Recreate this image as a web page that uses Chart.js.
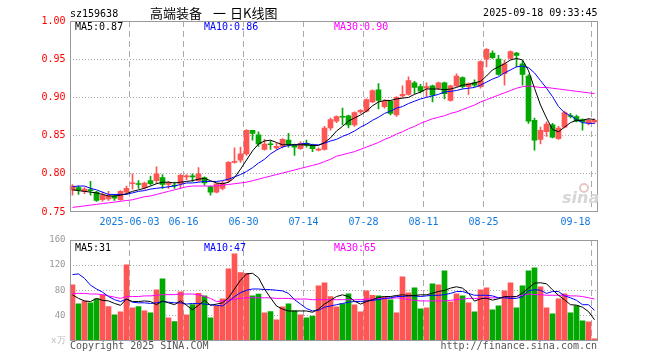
<!DOCTYPE html>
<html>
<head>
<meta charset="utf-8">
<script src="https://cdn.jsdelivr.net/npm/chart.js@4.4.1/dist/chart.umd.min.js"></script>
<style>
html, body { margin: 0; padding: 0; background: #fff; }
#wrap { position: relative; width: 660px; height: 360px; overflow: hidden; background: #fff; }
#kCanvas { position: absolute; left: 0; top: 0; }
#volCanvas { position: absolute; left: 0; top: 228px; }
</style>
</head>
<body>
<div id="wrap">
  <canvas id="kCanvas" width="660" height="232"></canvas>
  <canvas id="volCanvas" width="660" height="132"></canvas>
</div>
<script>
var MONO = '"DejaVu Sans Mono", "Liberation Mono", monospace';
Chart.defaults.font.family = MONO;
Chart.defaults.font.size = 10;

var RED = '#ff5555';
var GREEN = '#00a800';
var GRID = '#aaaaaa';
var DATE_BLUE = '#1177dd';

// trading days shown on the chart
var dates = [
    '2025-05-19', '2025-05-20', '2025-05-21', '2025-05-22', '2025-05-23',
    '2025-05-26', '2025-05-27', '2025-05-28', '2025-05-29', '2025-05-30',
    '2025-06-03', '2025-06-04', '2025-06-05', '2025-06-06',
    '2025-06-09', '2025-06-10', '2025-06-11', '2025-06-12', '2025-06-13',
    '2025-06-16', '2025-06-17', '2025-06-18', '2025-06-19', '2025-06-20',
    '2025-06-23', '2025-06-24', '2025-06-25', '2025-06-26', '2025-06-27',
    '2025-06-30', '2025-07-01', '2025-07-02', '2025-07-03', '2025-07-04',
    '2025-07-07', '2025-07-08', '2025-07-09', '2025-07-10', '2025-07-11',
    '2025-07-14', '2025-07-15', '2025-07-16', '2025-07-17', '2025-07-18',
    '2025-07-21', '2025-07-22', '2025-07-23', '2025-07-24', '2025-07-25',
    '2025-07-28', '2025-07-29', '2025-07-30', '2025-07-31', '2025-08-01',
    '2025-08-04', '2025-08-05', '2025-08-06', '2025-08-07', '2025-08-08',
    '2025-08-11', '2025-08-12', '2025-08-13', '2025-08-14', '2025-08-15',
    '2025-08-18', '2025-08-19', '2025-08-20', '2025-08-21', '2025-08-22',
    '2025-08-25', '2025-08-26', '2025-08-27', '2025-08-28', '2025-08-29',
    '2025-09-01', '2025-09-02', '2025-09-03', '2025-09-04', '2025-09-05',
    '2025-09-08', '2025-09-09', '2025-09-10', '2025-09-11', '2025-09-12',
    '2025-09-15', '2025-09-16', '2025-09-17', '2025-09-18'
];

// dates that get a label and a dashed grid line
var tickDates = ['2025-06-03', '2025-06-16', '2025-06-30', '2025-07-14', '2025-07-28', '2025-08-11', '2025-08-25', '2025-09-18'];

var openPrice = [
    0.779, 0.782, 0.777, 0.779, 0.776, 0.766, 0.767, 0.771, 0.766, 0.776,
    0.787, 0.787, 0.782, 0.791, 0.791, 0.795, 0.786, 0.785, 0.787, 0.796,
    0.797, 0.791, 0.795, 0.783, 0.776, 0.781, 0.791, 0.815, 0.818, 0.826,
    0.857, 0.851, 0.832, 0.839, 0.834, 0.836, 0.844, 0.838, 0.833, 0.840,
    0.838, 0.831, 0.832, 0.860, 0.869, 0.875, 0.876, 0.864, 0.881, 0.882,
    0.894, 0.910, 0.888, 0.895, 0.877, 0.902, 0.904, 0.919, 0.914, 0.912,
    0.915, 0.912, 0.919, 0.896, 0.915, 0.926, 0.914, 0.919, 0.914, 0.950,
    0.958, 0.950, 0.931, 0.951, 0.958, 0.944, 0.928, 0.870, 0.845, 0.855,
    0.864, 0.846, 0.861, 0.876, 0.875, 0.871, 0.867, 0.868
];
var closePrice = [
    0.784, 0.779, 0.780, 0.778, 0.765, 0.772, 0.771, 0.768, 0.777, 0.781,
    0.788, 0.786, 0.788, 0.787, 0.800, 0.786, 0.788, 0.784, 0.798, 0.797,
    0.796, 0.800, 0.788, 0.776, 0.787, 0.788, 0.815, 0.816, 0.826, 0.857,
    0.853, 0.839, 0.839, 0.838, 0.836, 0.845, 0.838, 0.835, 0.840, 0.837,
    0.833, 0.832, 0.860, 0.871, 0.875, 0.874, 0.864, 0.880, 0.883, 0.897,
    0.909, 0.896, 0.895, 0.879, 0.900, 0.904, 0.922, 0.913, 0.908, 0.914,
    0.903, 0.919, 0.905, 0.915, 0.928, 0.914, 0.918, 0.916, 0.947, 0.963,
    0.952, 0.930, 0.944, 0.960, 0.955, 0.930, 0.869, 0.844, 0.857, 0.865,
    0.848, 0.860, 0.880, 0.875, 0.869, 0.868, 0.870, 0.870
];
var highPrice = [
    0.786, 0.784, 0.782, 0.790, 0.777, 0.776, 0.777, 0.773, 0.778, 0.784,
    0.800, 0.791, 0.789, 0.797, 0.809, 0.799, 0.790, 0.789, 0.800, 0.799,
    0.800, 0.808, 0.796, 0.784, 0.788, 0.790, 0.816, 0.834, 0.835, 0.858,
    0.857, 0.855, 0.845, 0.843, 0.840, 0.846, 0.853, 0.839, 0.842, 0.844,
    0.839, 0.834, 0.862, 0.873, 0.876, 0.886, 0.877, 0.881, 0.884, 0.898,
    0.910, 0.918, 0.897, 0.896, 0.901, 0.915, 0.927, 0.921, 0.917, 0.919,
    0.916, 0.920, 0.920, 0.916, 0.931, 0.927, 0.919, 0.923, 0.948, 0.964,
    0.961, 0.955, 0.949, 0.961, 0.959, 0.948, 0.930, 0.873, 0.861, 0.868,
    0.866, 0.862, 0.882, 0.879, 0.877, 0.872, 0.872, 0.872
];
var lowPrice = [
    0.772, 0.773, 0.774, 0.772, 0.764, 0.764, 0.765, 0.765, 0.765, 0.774,
    0.780, 0.781, 0.780, 0.785, 0.787, 0.781, 0.781, 0.781, 0.781, 0.792,
    0.790, 0.790, 0.785, 0.772, 0.775, 0.779, 0.789, 0.814, 0.815, 0.824,
    0.844, 0.836, 0.831, 0.832, 0.832, 0.834, 0.835, 0.824, 0.832, 0.835,
    0.829, 0.830, 0.831, 0.857, 0.867, 0.864, 0.860, 0.862, 0.879, 0.881,
    0.893, 0.885, 0.886, 0.877, 0.875, 0.900, 0.903, 0.905, 0.906, 0.901,
    0.894, 0.910, 0.898, 0.895, 0.914, 0.912, 0.904, 0.914, 0.912, 0.940,
    0.951, 0.929, 0.916, 0.950, 0.940, 0.916, 0.866, 0.831, 0.839, 0.849,
    0.847, 0.845, 0.860, 0.873, 0.868, 0.857, 0.864, 0.866
];

// moving averages of the price, as drawn
var ma5 = [
    0.779, 0.778, 0.777, 0.776, 0.775, 0.773, 0.771, 0.771, 0.772, 0.774,
    0.777, 0.779, 0.781, 0.784, 0.787, 0.789, 0.789, 0.788, 0.789, 0.790,
    0.791, 0.793, 0.794, 0.791, 0.788, 0.787, 0.789, 0.795, 0.806, 0.818,
    0.830, 0.839, 0.843, 0.844, 0.841, 0.838, 0.838, 0.838, 0.838, 0.838,
    0.837, 0.837, 0.841, 0.847, 0.856, 0.862, 0.869, 0.873, 0.877, 0.882,
    0.889, 0.894, 0.896, 0.896, 0.898, 0.899, 0.900, 0.904, 0.907, 0.911,
    0.911, 0.911, 0.910, 0.911, 0.913, 0.916, 0.917, 0.919, 0.921, 0.928,
    0.936, 0.940, 0.944, 0.949, 0.951, 0.949, 0.935, 0.912, 0.890, 0.873,
    0.858, 0.855, 0.861, 0.867, 0.870, 0.870, 0.872, 0.871
];
var ma10 = [
    0.783, 0.784, 0.784, 0.781, 0.779, 0.776, 0.773, 0.773, 0.773, 0.773,
    0.775, 0.777, 0.778, 0.780, 0.781, 0.782, 0.783, 0.784, 0.786, 0.788,
    0.788, 0.789, 0.790, 0.790, 0.790, 0.791, 0.793, 0.796, 0.799, 0.803,
    0.808, 0.814, 0.819, 0.826, 0.831, 0.835, 0.837, 0.838, 0.839, 0.840,
    0.838, 0.838, 0.840, 0.843, 0.845, 0.849, 0.852, 0.856, 0.861, 0.865,
    0.870, 0.874, 0.879, 0.882, 0.886, 0.888, 0.892, 0.895, 0.898, 0.900,
    0.902, 0.904, 0.907, 0.908, 0.909, 0.911, 0.912, 0.913, 0.916, 0.920,
    0.924, 0.927, 0.932, 0.936, 0.940, 0.941, 0.939, 0.932, 0.922, 0.912,
    0.901, 0.888, 0.880, 0.876, 0.871, 0.867, 0.866, 0.866
];
var ma30 = [
    0.756, 0.757, 0.758, 0.759, 0.760, 0.761, 0.762, 0.763, 0.764, 0.765,
    0.766, 0.768, 0.770, 0.771, 0.773, 0.775, 0.777, 0.779, 0.781, 0.783,
    0.784, 0.784, 0.784, 0.784, 0.784, 0.785, 0.786, 0.787, 0.788, 0.789,
    0.791, 0.793, 0.795, 0.797, 0.799, 0.801, 0.803, 0.805, 0.807, 0.809,
    0.811, 0.813, 0.816, 0.819, 0.823, 0.825, 0.827, 0.829, 0.832, 0.835,
    0.838, 0.841, 0.845, 0.848, 0.852, 0.855, 0.859, 0.862, 0.866, 0.869,
    0.872, 0.874, 0.876, 0.879, 0.881, 0.884, 0.887, 0.890, 0.894, 0.897,
    0.900, 0.903, 0.906, 0.909, 0.912, 0.914, 0.915, 0.914, 0.913, 0.913,
    0.912, 0.911, 0.910, 0.909, 0.908, 0.907, 0.906, 0.905
];

// volume in units of 10k (x万)
var volume = [
    88.7, 58.4, 62.7, 60, 66.4, 72.7, 54, 41, 45.7, 120.5,
    52, 54, 47.3, 44, 80.7, 98.2, 36, 30.3, 77.5, 41,
    57, 75, 71, 36, 55, 66.4, 114, 138, 108, 107,
    71, 74, 44, 46, 33, 53.6, 58.4, 47.3, 41, 36,
    39, 87, 92, 70, 53.6, 58.4, 74.3, 56.8, 45.7, 79,
    72, 71, 69.6, 64.8, 44, 101.4, 76, 84, 50.4, 52,
    90.3, 88.7, 111, 61.6, 74.3, 71, 60, 45.7, 80.7, 84,
    48.9, 55.2, 79, 91.9, 52, 87, 111, 115.8, 85.5, 52,
    42.5, 66.4, 74.3, 44, 55.2, 31.3, 29.7, 2.7
];
var volMa5 = [
    72.7, 67, 63, 62, 67, 64, 63, 59, 56, 66,
    62, 62, 63, 62, 57, 63, 60, 57, 63, 56,
    49, 56, 64, 56, 58, 60, 68, 82, 96, 106,
    107, 100, 82, 68, 55, 50, 47, 47, 47, 47,
    45, 50, 58, 64, 70, 72.7, 70, 62.6, 58, 62,
    65, 68.5, 70, 70, 71.7, 72.7, 71.7, 71.7, 72.7, 72.7,
    75.4, 78, 79.7, 83.4, 85.5, 83.4, 75.4, 62.6, 66.4, 67.4,
    64.3, 66.4, 70, 69.6, 70, 75.4, 83.4, 91.3, 91.9, 90.3,
    80.7, 72, 64.8, 57, 56.3, 53, 46, 33
];
var volMa10 = [
    105, 106, 99, 88, 82, 77, 70, 65, 62, 66,
    61, 60, 60, 59, 60, 62, 61, 60, 60, 58,
    59, 59, 58, 57, 56, 55, 62, 70, 76, 80,
    82, 82, 81, 81, 80, 79, 75, 65, 58, 51,
    47, 48, 53, 55, 57, 59, 61, 62, 62, 63,
    64, 65, 67, 68, 70, 70, 71, 71, 70, 71,
    72, 72, 73, 75, 78, 78, 75, 72, 72, 72,
    71, 68, 68, 67, 67, 70, 79, 81, 80, 75,
    78, 78, 71, 68, 64, 57, 57, 48
];
var volMa30 = [
    75, 75, 75, 74, 74, 73, 71, 69, 67, 70,
    70, 70, 71, 71, 72, 73, 73, 73, 74, 74,
    74, 73, 70, 67, 62, 63, 64, 66, 67, 68,
    68, 68, 68, 68, 67, 67, 67, 66, 66, 66,
    65, 65, 65, 65, 65, 65, 65, 65, 65, 66,
    66, 67, 67, 67, 68, 67, 65, 64, 63, 63,
    63, 63, 63, 64, 65, 66, 67, 67, 67, 68,
    68, 68, 69, 69, 70, 72, 74, 73, 73, 72,
    72, 72, 72, 71, 71, 70, 68, 66
];

var candleColors = openPrice.map(function (o, i) { return closePrice[i] >= o ? RED : GREEN; });
var tickIndex = tickDates.map(function (d) { return dates.indexOf(d); });

function dateGridColor(ctx) {
    return tickIndex.indexOf(ctx.index) >= 0 ? GRID : 'rgba(0,0,0,0)';
}

function drawFrame(chart) {
    var a = chart.chartArea, c = chart.ctx;
    var l = Math.round(a.left) + 0.5, r = Math.floor(a.right) + 0.5;
    var t = Math.round(a.top) + 0.5, b = Math.round(a.bottom) - 0.5;
    c.save();
    c.strokeStyle = '#999999';
    c.lineWidth = 1;
    c.strokeRect(l, t, r - l, b - t);
    c.restore();
}

function maLine(label, values, color) {
    return {
        type: 'line', label: label, data: values,
        borderColor: color, borderWidth: 1,
        pointRadius: 0, tension: 0, fill: false
    };
}

var kTextPlugin = {
    id: 'kText',
    afterDraw: function (chart) {
        var c = chart.ctx, a = chart.chartArea, xs = chart.scales.x;
        drawFrame(chart);
        c.save();
        c.textBaseline = 'alphabetic';
        c.font = '10px ' + MONO;
        c.fillStyle = '#000';
        c.textAlign = 'left';
        c.fillText('sz159638', 70, 16.5);
        c.textAlign = 'right';
        c.fillText('2025-09-18 09:33:45', 597.5, 16);

        // title, spaced like the original
        c.textAlign = 'left';
        c.font = '13px "Noto Sans CJK SC", sans-serif';
        c.fillText('高端装备', 150, 17.5);
        c.fillText('一', 213, 17.5);
        c.fillText('日K线图', 230, 17.5);

        c.font = '10px ' + MONO;
        c.fillStyle = '#000';
        c.fillText('MA5:0.87', 75, 29.5);
        c.fillStyle = '#0000ff';
        c.fillText('MA10:0.86', 204, 29.5);
        c.fillStyle = '#ff00ff';
        c.fillText('MA30:0.90', 334, 29.5);

        // date labels under the price panel
        c.fillStyle = DATE_BLUE;
        var half = xs.width / dates.length / 2;
        tickIndex.forEach(function (idx, k) {
            var x = xs.getPixelForValue(idx) - half;
            var txt = k === 0 ? tickDates[k] : tickDates[k].slice(5);
            var w = c.measureText(txt).width;
            if (x + w / 2 > a.right) {
                c.textAlign = 'right';
                c.fillText(txt, x - 1, 225);
            } else {
                c.textAlign = 'center';
                c.fillText(txt, x, 225);
            }
        });

        // sina watermark
        c.textAlign = 'left';
        c.fillStyle = '#d6d6d6';
        c.font = 'italic bold 16px "DejaVu Sans", sans-serif';
        c.fillText('sina', 562, 203);
        c.strokeStyle = '#e8c8c8';
        c.lineWidth = 2;
        c.beginPath();
        c.arc(584, 188, 4, 0, Math.PI * 2);
        c.stroke();
        c.restore();
    }
};

var volTextPlugin = {
    id: 'volText',
    afterDraw: function (chart) {
        var c = chart.ctx;
        drawFrame(chart);
        c.save();
        c.textBaseline = 'alphabetic';
        c.font = '10px ' + MONO;
        c.textAlign = 'left';
        c.fillStyle = '#000';
        c.fillText('MA5:31', 75, 22.7);
        c.fillStyle = '#0000ff';
        c.fillText('MA10:47', 204, 22.7);
        c.fillStyle = '#ff00ff';
        c.fillText('MA30:65', 334, 22.7);
        c.fillStyle = '#555';
        c.fillText('Copyright 2025 SINA.COM', 70, 120.5);
        c.textAlign = 'right';
        c.fillText('http://finance.sina.com.cn', 597, 120.5);
        c.restore();
    }
};

new Chart(document.getElementById('kCanvas'), {
    type: 'bar',
    data: {
        labels: dates,
        datasets: [
            maLine('MA5', ma5, '#000000'),
            maLine('MA10', ma10, '#0000ff'),
            maLine('MA30', ma30, '#ff00ff'),
            {
                label: 'body',
                data: openPrice.map(function (o, i) { return [o, closePrice[i]]; }),
                backgroundColor: candleColors,
                barThickness: 5, minBarLength: 1, grouped: false
            },
            {
                label: 'wick',
                data: lowPrice.map(function (l, i) { return [l, highPrice[i]]; }),
                backgroundColor: candleColors,
                barThickness: 1, minBarLength: 1, grouped: false
            }
        ]
    },
    options: {
        responsive: false, animation: false, devicePixelRatio: 1, events: [],
        layout: { padding: { top: 21, right: 62.5, bottom: 0, left: 0 } },
        plugins: { legend: { display: false }, tooltip: { enabled: false } },
        scales: {
            x: {
                offset: true,
                grid: { offset: true, drawTicks: false, color: dateGridColor, lineWidth: 1 },
                border: { display: false, dash: [6, 4] },
                ticks: { display: false, autoSkip: false },
                afterFit: function (s) { s.height = 20; }
            },
            y: {
                min: 0.75, max: 1.0,
                ticks: {
                    stepSize: 0.05, color: '#ff0000', padding: 4,
                    callback: function (v) { return v.toFixed(2); }
                },
                grid: {
                    drawTicks: false, lineWidth: 1,
                    color: function (ctx) {
                        var v = ctx.tick ? ctx.tick.value : 0;
                        return (Math.abs(v - 0.75) < 1e-6 || Math.abs(v - 1) < 1e-6) ? 'rgba(0,0,0,0)' : GRID;
                    }
                },
                border: { display: false, dash: [1, 2] },
                afterFit: function (s) { s.width = 69.5; }
            }
        }
    },
    plugins: [kTextPlugin]
});

new Chart(document.getElementById('volCanvas'), {
    type: 'bar',
    data: {
        labels: dates,
        datasets: [
            maLine('MA5', volMa5, '#000000'),
            maLine('MA10', volMa10, '#0000ff'),
            maLine('MA30', volMa30, '#ff00ff'),
            {
                label: 'volume', data: volume,
                backgroundColor: candleColors,
                barThickness: 5, grouped: false
            }
        ]
    },
    options: {
        responsive: false, animation: false, devicePixelRatio: 1, events: [],
        layout: { padding: { top: 12, right: 62.5, bottom: 0, left: 0 } },
        plugins: { legend: { display: false }, tooltip: { enabled: false } },
        scales: {
            x: {
                offset: true,
                grid: { offset: true, drawTicks: false, color: dateGridColor, lineWidth: 1 },
                border: { display: false, dash: [6, 4] },
                ticks: { display: false, autoSkip: false },
                afterFit: function (s) { s.height = 19.5; }
            },
            y: {
                min: 0, max: 160,
                ticks: {
                    stepSize: 40, padding: 4, font: { size: 9 },
                    color: function (ctx) { return ctx.tick && ctx.tick.value === 0 ? '#bbbbbb' : '#999999'; },
                    callback: function (v) { return v === 0 ? 'x万' : String(v); }
                },
                grid: {
                    drawTicks: false, lineWidth: 1,
                    color: function (ctx) {
                        var v = ctx.tick ? ctx.tick.value : 0;
                        return (v === 0 || v === 160) ? 'rgba(0,0,0,0)' : GRID;
                    }
                },
                border: { display: false, dash: [1, 2] },
                afterFit: function (s) { s.width = 69.5; }
            }
        }
    },
    plugins: [volTextPlugin]
});
</script>
</body>
</html>
